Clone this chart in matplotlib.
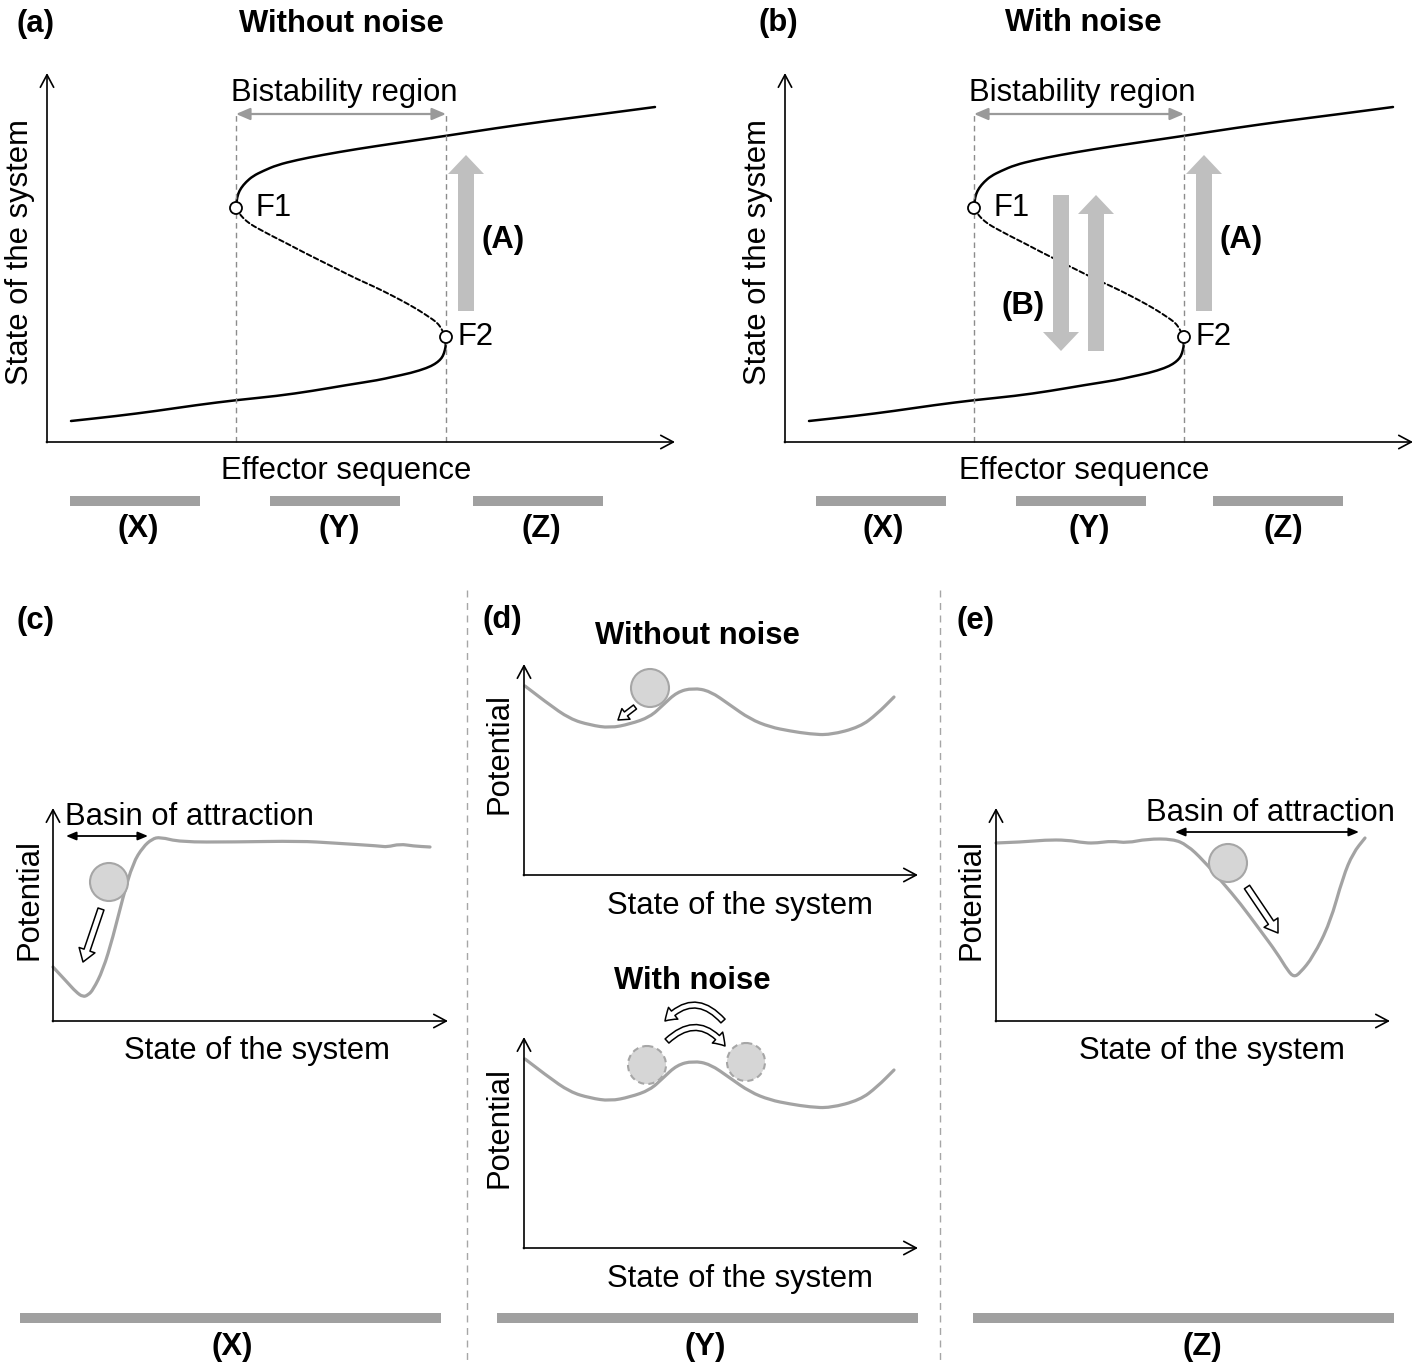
import numpy as np
import matplotlib
matplotlib.use("Agg")
import matplotlib.pyplot as plt
from matplotlib.patches import Circle, FancyArrowPatch, PathPatch
from matplotlib.path import Path

plt.rcParams["font.family"] = ["Liberation Sans", "DejaVu Sans"]

W, H = 1421, 1365
FS = 22.3

# ---- S-shaped steady-state curve (pixels from the axis origin, y up) ----
S_UPPER_X = [189, 189.5, 191, 194, 199, 206, 216, 230, 250, 275, 310, 350, 398, 450, 500, 555, 608]
S_UPPER_Y = [234, 241, 248, 254, 260, 266, 271, 277, 282, 287, 293, 299, 306, 314, 321, 328, 335]
S_MID_X = [189, 192, 196, 203, 212, 225, 239, 256, 274, 292, 310, 328, 346, 361, 373, 382, 388, 393, 396, 398, 399]
S_MID_Y = [234, 229, 224, 218, 213, 206, 199, 190, 181, 172, 163, 155, 146, 138, 131, 125, 121, 116, 110, 107, 105]
S_LOWER_X = [399, 399, 398, 396, 393, 388, 380, 364, 345, 332, 300, 265, 230, 190, 150, 109, 70, 24]
S_LOWER_Y = [105, 98, 92, 86, 82, 78, 74, 69, 65, 62, 57, 51, 46, 42, 37, 31, 26, 21]
FOLDS = {"F1": (189, 234), "F2": (399, 105)}
BISTABLE_X = [189, 399]

# ---- potential landscapes ----
POT_X_X = [0, 14, 23, 30, 35, 40, 50, 60, 70, 80, 90, 99, 107, 127, 180, 247, 280, 327, 334, 347, 360, 377]
POT_X_Y = [54, 39, 29, 24, 26, 31, 51, 84, 124, 158, 174, 182, 184, 179, 179, 180, 178, 175, 174, 177, 175, 174]
POT_Y_X = [1, 23, 46, 66, 86, 106, 126, 139, 153, 169, 186, 206, 226, 246, 266, 286, 306, 336, 353, 370]
POT_Y_Y = [189, 172, 156, 150, 147, 151, 158, 170, 183, 187, 184, 170, 156, 148, 144, 141, 140, 148, 161, 178]
POT_Z_X = [0, 27, 49, 71, 89, 101, 116, 131, 151, 177, 191, 207, 227, 244, 264, 281, 292, 298, 304, 317, 334, 347, 357, 369]
POT_Z_Y = [178, 179, 181, 181, 178, 178, 180, 178, 182, 182, 176, 161, 138, 118, 91, 68, 50, 44, 48, 64, 98, 144, 168, 183]

# ---- layout (pixels, y down) ----
ORIGIN_A, ORIGIN_B = (47, 442), (785, 442)
ORIGIN_C, ORIGIN_D1, ORIGIN_D2, ORIGIN_E = (53, 1021), (524, 875), (524, 1248), (996, 1021)

BAR_LABELS = ["(X)", "(Y)", "(Z)"]
BAR_LEFT_A, BAR_LEFT_B = [70, 270, 473], [816, 1016, 1213]
LABEL_X_A, LABEL_X_B = [138, 339, 541], [883, 1089, 1283]
BAR_LEFT_BOTTOM = [20, 497, 973]
LABEL_X_BOTTOM = [232, 705, 1202]

GREY_BAR = "#a0a0a0"
GREY_ARROW = "#bfbfbf"
GREY_CURVE = "#a3a3a3"
BALL_FC, BALL_EC = "#d6d6d6", "#a6a6a6"

fig = plt.figure(figsize=(W / 100, H / 100), dpi=100)
ax = fig.add_axes([0, 0, 1, 1])
ax.set_xlim(0, W)
ax.set_ylim(H, 0)
ax.axis("off")


def place(origin, xs, ys):
    return origin[0] + np.asarray(xs, float), origin[1] - np.asarray(ys, float)


def smooth(x, y, **kw):
    """Quadratic Bezier through midpoints, the listed points act as controls."""
    pts = np.column_stack([x, y])
    verts, codes = [pts[0]], [Path.MOVETO]
    for i in range(1, len(pts) - 1):
        verts += [pts[i], (pts[i] + pts[i + 1]) / 2]
        codes += [Path.CURVE3, Path.CURVE3]
    verts.append(pts[-1])
    codes.append(Path.LINETO)
    ax.add_patch(PathPatch(Path(verts, codes), fill=False, capstyle="round",
                           joinstyle="round", **kw))


def axis_arrows(origin, w, h):
    ox, oy = origin
    style = dict(arrowstyle="->,head_length=0.6,head_width=0.32", lw=1.2,
                 color="black", shrinkA=0, shrinkB=0, mutation_scale=15)
    ax.annotate("", xy=(ox, oy - h), xytext=(ox, oy + 0.6), arrowprops=style)
    ax.annotate("", xy=(ox + w, oy), xytext=(ox - 0.6, oy), arrowprops=style)


def hollow_arrow(p0, p1, scale=10, rad=0.0):
    arr = FancyArrowPatch(p0, p1, arrowstyle="simple,head_width=1.2,head_length=0.9,tail_width=0.45",
                          connectionstyle=f"arc3,rad={rad}", mutation_scale=scale,
                          fc="white", ec="black", lw=1.1, shrinkA=0, shrinkB=0)
    ax.add_patch(arr)


def ball(center, dashed=False):
    ax.add_patch(Circle(center, 19, fc=BALL_FC, ec=BALL_EC, lw=1.5,
                        ls=(0, (3, 2)) if dashed else "-", zorder=3))


def bifurcation_panel(origin, with_noise):
    ox, oy = origin
    axis_arrows(origin, 628, 369)
    smooth(*place(origin, S_UPPER_X, S_UPPER_Y), color="black", lw=1.8)
    smooth(*place(origin, S_LOWER_X, S_LOWER_Y), color="black", lw=1.8)
    smooth(*place(origin, S_MID_X, S_MID_Y), color="black", lw=1.4, ls=(0, (2.5, 1.5)))
    for name, (fx, fy) in FOLDS.items():
        px, py = ox + fx, oy - fy
        ax.add_patch(Circle((px, py), 6, fc="white", ec="black", lw=1.3, zorder=4))
        ax.text(px + (20 if name == "F1" else 11), py, name, fontsize=FS, va="center", ha="left")
    for bx in BISTABLE_X:
        ax.plot([ox + bx, ox + bx], [oy, oy - 328], color="#8c8c8c", lw=1.0, ls=(0, (4, 3)))
    ax.annotate("", xy=(ox + BISTABLE_X[1], oy - 328), xytext=(ox + BISTABLE_X[0], oy - 328),
                arrowprops=dict(arrowstyle="<|-|>,head_length=0.7,head_width=0.3", color="#9a9a9a",
                                lw=1.6, shrinkA=0, shrinkB=0, mutation_scale=12))
    ax.text(ox + 297, oy - 349, "Bistability region", fontsize=FS, ha="center", va="center")
    ax.text(ox - 27, oy - 190, "State of the system", fontsize=FS, rotation=90,
            ha="center", va="center")
    ax.text(ox + 299, oy + 29, "Effector sequence", fontsize=FS, ha="center", va="center")
    # transition arrow (A)
    ax.arrow(ox + 419, oy - 131, 0, -156, width=16, head_width=36, head_length=19,
             length_includes_head=True, color=GREY_ARROW, lw=0)
    ax.text(ox + 456, oy - 202, "(A)", fontsize=FS, fontweight="bold", ha="center", va="center")
    if with_noise:
        ax.arrow(ox + 276, oy - 247, 0, 156, width=16, head_width=36, head_length=19,
                 length_includes_head=True, color=GREY_ARROW, lw=0)
        ax.arrow(ox + 311, oy - 91, 0, -156, width=16, head_width=36, head_length=19,
                 length_includes_head=True, color=GREY_ARROW, lw=0)
        ax.text(ox + 238, oy - 136, "(B)", fontsize=FS, fontweight="bold", ha="center", va="center")


bifurcation_panel(ORIGIN_A, False)
bifurcation_panel(ORIGIN_B, True)

ax.text(36, 24, "(a)", fontsize=FS, fontweight="bold", ha="center", va="center")
ax.text(341, 24, "Without noise", fontsize=FS, fontweight="bold", ha="center", va="center")
ax.text(778, 23, "(b)", fontsize=FS, fontweight="bold", ha="center", va="center")
ax.text(1083, 23, "With noise", fontsize=FS, fontweight="bold", ha="center", va="center")

# sequence bars under (a) and (b)
for lefts, labx in [(BAR_LEFT_A, LABEL_X_A), (BAR_LEFT_B, LABEL_X_B)]:
    ax.barh([501] * 3, [130] * 3, left=lefts, height=10, color=GREY_BAR)
    for lx, lab in zip(labx, BAR_LABELS):
        ax.text(lx, 529, lab, fontsize=FS, fontweight="bold", ha="center", va="center")

# ---- (c) ----
axis_arrows(ORIGIN_C, 395, 213)
smooth(*place(ORIGIN_C, POT_X_X, POT_X_Y), color=GREY_CURVE, lw=2.3)
ball(place(ORIGIN_C, 56, 139))
hollow_arrow(place(ORIGIN_C, 48, 112), place(ORIGIN_C, 30, 59))
ax.annotate("", xy=place(ORIGIN_C, 95, 185), xytext=place(ORIGIN_C, 13, 185),
            arrowprops=dict(arrowstyle="<|-|>,head_length=0.6,head_width=0.25", color="black",
                            lw=1.3, shrinkA=0, shrinkB=0, mutation_scale=10))
ax.text(65, 817, "Basin of attraction", fontsize=FS, ha="left", va="center")
ax.text(30, 900, "Potential", fontsize=FS, rotation=90, ha="center", va="center")
ax.text(257, 1051, "State of the system", fontsize=FS, ha="center", va="center")
ax.text(35, 621, "(c)", fontsize=FS, fontweight="bold", ha="center", va="center")

# ---- (d) ----
for origin in (ORIGIN_D1, ORIGIN_D2):
    axis_arrows(origin, 394, 211)
    smooth(*place(origin, POT_Y_X, POT_Y_Y), color=GREY_CURVE, lw=2.3)
    ax.text(origin[0] - 24, origin[1] - 121, "Potential", fontsize=FS, rotation=90,
            ha="center", va="center")
    ax.text(origin[0] + 216, origin[1] + 31, "State of the system", fontsize=FS,
            ha="center", va="center")
ball(place(ORIGIN_D1, 126, 187))
hollow_arrow(place(ORIGIN_D1, 111, 168), place(ORIGIN_D1, 94, 155), scale=8)
ball(place(ORIGIN_D2, 123, 183), dashed=True)
ball(place(ORIGIN_D2, 222, 186), dashed=True)
hollow_arrow(place(ORIGIN_D2, 199, 227), place(ORIGIN_D2, 141, 227), scale=9, rad=0.55)
hollow_arrow(place(ORIGIN_D2, 143, 207), place(ORIGIN_D2, 201, 202), scale=9, rad=-0.55)
ax.text(502, 620, "(d)", fontsize=FS, fontweight="bold", ha="center", va="center")
ax.text(697, 636, "Without noise", fontsize=FS, fontweight="bold", ha="center", va="center")
ax.text(692, 981, "With noise", fontsize=FS, fontweight="bold", ha="center", va="center")

# ---- (e) ----
axis_arrows(ORIGIN_E, 394, 213)
smooth(*place(ORIGIN_E, POT_Z_X, POT_Z_Y), color=GREY_CURVE, lw=2.3)
ball(place(ORIGIN_E, 232, 158))
hollow_arrow(place(ORIGIN_E, 251, 134), place(ORIGIN_E, 282, 88))
ax.annotate("", xy=place(ORIGIN_E, 363, 189), xytext=place(ORIGIN_E, 179, 189),
            arrowprops=dict(arrowstyle="<|-|>,head_length=0.6,head_width=0.25", color="black",
                            lw=1.3, shrinkA=0, shrinkB=0, mutation_scale=10))
ax.text(1270, 813, "Basin of attraction", fontsize=FS, ha="center", va="center")
ax.text(972, 900, "Potential", fontsize=FS, rotation=90, ha="center", va="center")
ax.text(1212, 1051, "State of the system", fontsize=FS, ha="center", va="center")
ax.text(975, 621, "(e)", fontsize=FS, fontweight="bold", ha="center", va="center")

# separators and bottom bars
for sx in (467, 940):
    ax.plot([sx, sx], [590, H], color="#a6a6a6", lw=1.0, ls=(0, (5, 4)))
ax.barh([1318] * 3, [421] * 3, left=BAR_LEFT_BOTTOM, height=10, color=GREY_BAR)
for lx, lab in zip(LABEL_X_BOTTOM, BAR_LABELS):
    ax.text(lx, 1347, lab, fontsize=FS, fontweight="bold", ha="center", va="center")

fig.savefig("out.png", dpi=100)
